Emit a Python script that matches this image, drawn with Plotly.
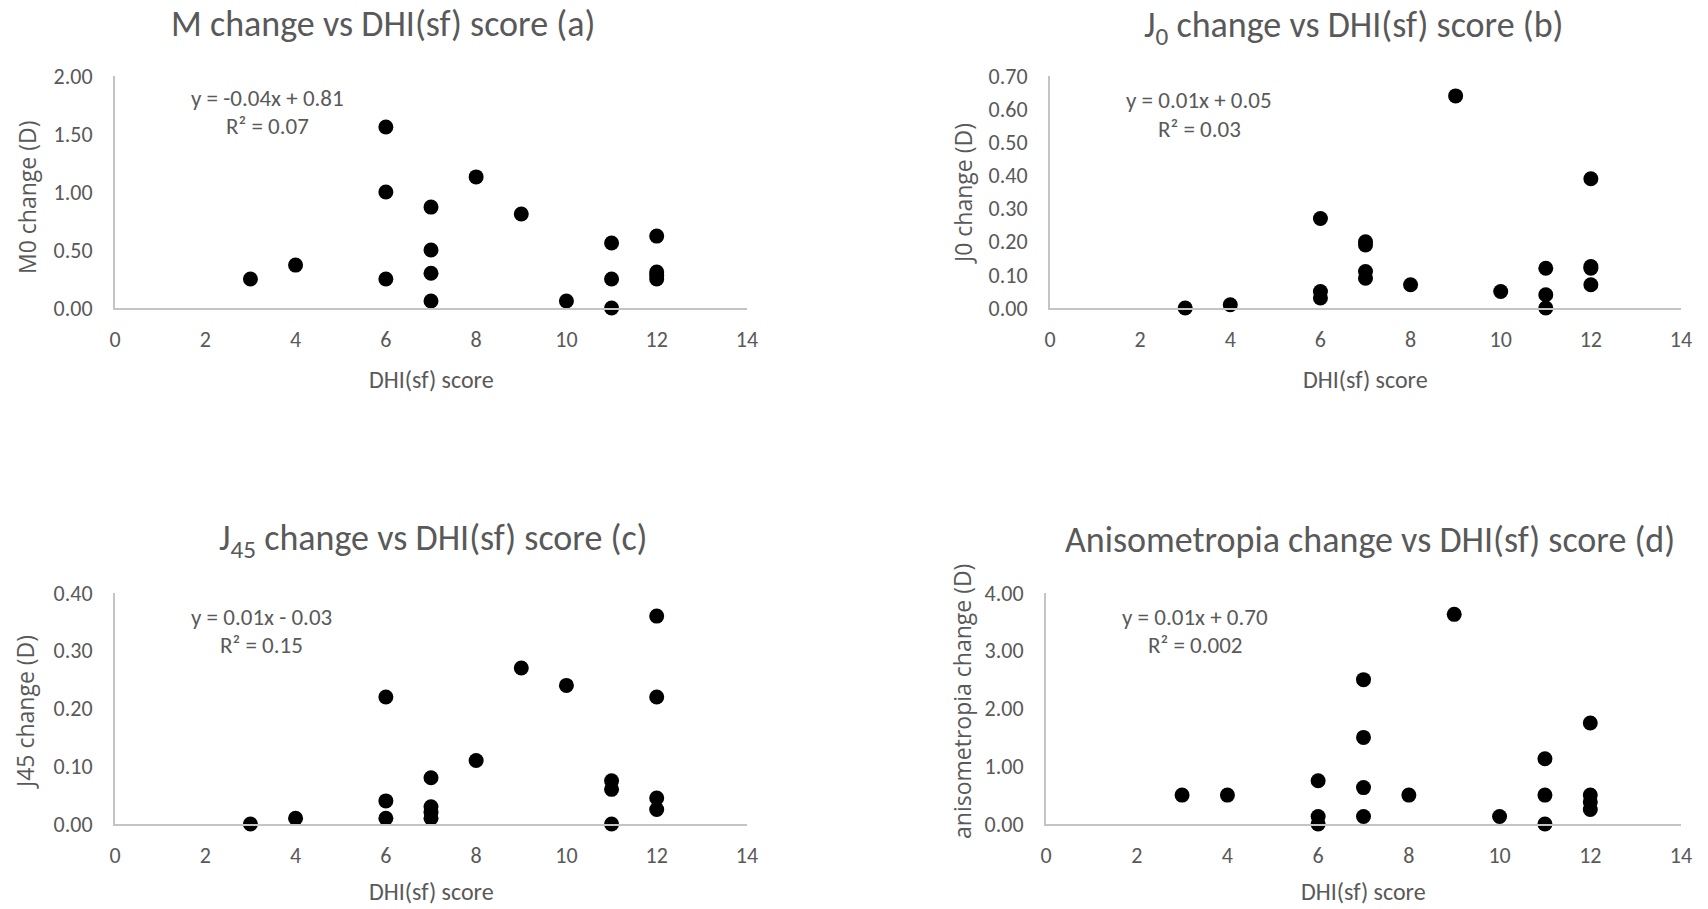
import plotly.graph_objects as go

# ---- data ----
dhi_a = [3, 4, 6, 6, 6, 7, 7, 7, 7, 8, 9, 10, 11, 11, 11, 12, 12, 12, 12]
m0_change = [0.25, 0.37, 1.56, 1.00, 0.25, 0.87, 0.50, 0.30, 0.06, 1.13, 0.81, 0.06, 0.56, 0.25, 0.00, 0.62, 0.31, 0.28, 0.25]

dhi_b = [3, 4, 6, 6, 6, 7, 7, 7, 7, 8, 9, 10, 11, 11, 11, 12, 12, 12, 12]
j0_change = [0.00, 0.01, 0.27, 0.05, 0.03, 0.20, 0.19, 0.11, 0.09, 0.07, 0.64, 0.05, 0.12, 0.04, 0.00, 0.39, 0.125, 0.12, 0.07]

dhi_c = [3, 4, 6, 6, 6, 7, 7, 7, 7, 8, 9, 10, 11, 11, 11, 12, 12, 12, 12]
j45_change = [0.00, 0.01, 0.22, 0.04, 0.01, 0.08, 0.03, 0.02, 0.01, 0.11, 0.27, 0.24, 0.075, 0.06, 0.00, 0.36, 0.22, 0.045, 0.025]

dhi_d = [3, 4, 6, 6, 6, 7, 7, 7, 7, 8, 9, 10, 11, 11, 11, 12, 12, 12, 12]
aniso_change = [0.50, 0.50, 0.75, 0.13, 0.00, 2.50, 1.50, 0.63, 0.13, 0.50, 3.63, 0.13, 1.13, 0.50, 0.00, 1.75, 0.50, 0.38, 0.25]

titles = ["M change vs DHI(sf) score (a)",
          "J<sub>0</sub> change vs DHI(sf) score (b)",
          "J<sub>45</sub> change vs DHI(sf) score (c)",
          "Anisometropia change vs DHI(sf) score (d)"]
y_titles = ["M0 change (D)", "J0 change (D)", "J45 change (D)", "anisometropia change (D)"]
x_title = "DHI(sf) score"
equations = ["y = -0.04x + 0.81", "y = 0.01x + 0.05", "y = 0.01x - 0.03", "y = 0.01x + 0.70"]
r2_texts = ["R² = 0.07", "R² = 0.03", "R² = 0.15", "R² = 0.002"]
y_ranges = [[0, 2.0], [0, 0.7], [0, 0.4], [0, 4.0]]
y_dticks = [0.5, 0.1, 0.1, 1.0]
x_ticks = [0, 2, 4, 6, 8, 10, 12, 14]

W, H = 1708, 909
FONT = "Carlito, Lato, 'Liberation Sans Narrow', sans-serif"
YFONT = "'Open Sans', 'Noto Sans', sans-serif"
TXT = "#595959"
AX = "#c4c4c4"

# panel geometry in pixels: (left, right, top, bottom)
panels = [(115, 747, 76, 308), (1050, 1681, 76, 308),
          (115, 747, 593, 824), (1046, 1681, 593, 824)]
title_pos = [(383, 24), (1353, 27), (433, 540), (1370, 540)]
xtitle_off = [71, 71, 67, 67]
ytitle_pos = [(27, 198), (963, 194), (25, 712), (962, 701)]
eq_pos = [(267, 98, 126), (1199, 100, 129), (261, 617, 645), (1195, 617, 645)]

xs = [dhi_a, dhi_b, dhi_c, dhi_d]
ys = [m0_change, j0_change, j45_change, aniso_change]

fig = go.Figure()
layout = dict(width=W, height=H, margin=dict(l=0, r=0, t=0, b=0, pad=0, autoexpand=False),
              paper_bgcolor="white", plot_bgcolor="white", showlegend=False,
              font=dict(family=FONT, color=TXT))
annotations = []

def px(x):
    return x / W

def py(y):
    return 1 - y / H

for i in range(4):
    n = "" if i == 0 else str(i + 1)
    l, r, t, b = panels[i]
    fig.add_trace(go.Scatter(x=xs[i], y=ys[i], mode="markers",
                             marker=dict(size=15, color="black"),
                             cliponaxis=False,
                             xaxis="x" + n, yaxis="y" + n))
    layout["xaxis" + n] = dict(domain=[px(l), px(r)], range=[0, 14], anchor="y" + n,
                               tickvals=x_ticks, showgrid=False, zeroline=False,
                               showline=True, linecolor=AX, linewidth=2,
                               ticks="", ticklabelstandoff=11, automargin=False,
                               tickfont=dict(size=22, color=TXT, family=FONT))
    layout["yaxis" + n] = dict(domain=[py(b), py(t)], range=y_ranges[i], anchor="x" + n,
                               dtick=y_dticks[i], tick0=0, tickformat=".2f",
                               showgrid=False, zeroline=False,
                               showline=True, linecolor=AX, linewidth=2,
                               ticks="", ticklabelstandoff=16, automargin=False,
                               tickfont=dict(size=22, color=TXT, family=FONT))
    tx, ty = title_pos[i]
    annotations.append(dict(text=titles[i], x=px(tx), y=py(ty), xref="paper", yref="paper",
                            xanchor="center", yanchor="middle", showarrow=False,
                            font=dict(size=36, color=TXT, family=FONT)))
    # x-axis title
    annotations.append(dict(text=x_title, x=px((l + r) / 2), y=py(b + xtitle_off[i]),
                            xref="paper", yref="paper",
                            xanchor="center", yanchor="middle", showarrow=False,
                            font=dict(size=24, color=TXT, family=FONT)))
    yx, yy = ytitle_pos[i]
    annotations.append(dict(text=y_titles[i], x=px(yx), y=py(yy), xref="paper", yref="paper",
                            xanchor="center", yanchor="middle", showarrow=False, textangle=-90,
                            font=dict(size=23, color=TXT, family=YFONT)))
    ex, ey1, ey2 = eq_pos[i]
    annotations.append(dict(text=equations[i], x=px(ex), y=py(ey1), xref="paper", yref="paper",
                            xanchor="center", yanchor="middle", showarrow=False,
                            font=dict(size=23, color=TXT, family=FONT)))
    annotations.append(dict(text=r2_texts[i], x=px(ex), y=py(ey2), xref="paper", yref="paper",
                            xanchor="center", yanchor="middle", showarrow=False,
                            font=dict(size=23, color=TXT, family=FONT)))

layout["annotations"] = annotations
fig.update_layout(**layout)
fig.write_html("out.html")
